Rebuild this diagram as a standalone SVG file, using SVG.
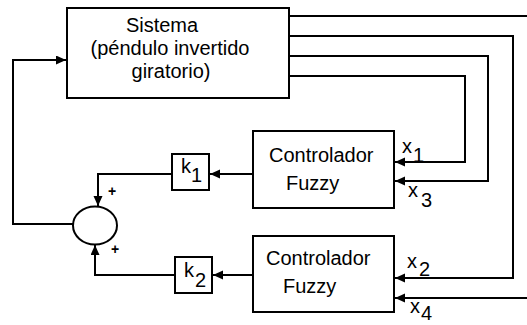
<svg xmlns="http://www.w3.org/2000/svg" width="527" height="325" viewBox="0 0 527 325">
<style>
.box{fill:#fff;stroke:#000;stroke-width:2}
.ln{fill:none;stroke:#000;stroke-width:2}
.t{font-family:"Liberation Sans",Arial,sans-serif;font-size:20px;fill:#000}
.pl{font-family:"Liberation Sans",Arial,sans-serif;font-size:14px;font-weight:bold;fill:#000}
</style>
<defs>
<marker id="ah" markerUnits="userSpaceOnUse" markerWidth="11" markerHeight="10" refX="10" refY="4.5" orient="auto">
<path d="M0,0 L10,4.5 L0,9 z" fill="#000"/>
</marker>
</defs>
<rect width="527" height="325" fill="#fff"/>
<g id="connectors">
<path class="ln" d="M289,76 H465 V162 H395" marker-end="url(#ah)"/>
<path class="ln" d="M289,56 H488 V181 H395" marker-end="url(#ah)"/>
<path class="ln" d="M289,36 H513 V278 H395" marker-end="url(#ah)"/>
<path class="ln" d="M289,16 H530 V298 H395" marker-end="url(#ah)"/>
<path class="ln" d="M253,174 H210" marker-end="url(#ah)"/>
<path class="ln" d="M253,275 H213" marker-end="url(#ah)"/>
<path class="ln" d="M172,174 H98 V206" marker-end="url(#ah)"/>
<path class="ln" d="M175,275 H95 V245" marker-end="url(#ah)"/>
<path class="ln" d="M73,224 H13 V60 H66" marker-end="url(#ah)"/>
</g>
<g id="sistema">
<rect class="box" x="67" y="8" width="222" height="90"/>
<text class="t" x="162" y="32" text-anchor="middle">Sistema</text>
<text class="t" x="170" y="55" text-anchor="middle">(péndulo invertido</text>
<text class="t" x="171" y="78" text-anchor="middle">giratorio)</text>
</g>
<g id="fuzzy1">
<rect class="box" x="253" y="131" width="141" height="77"/>
<text class="t" x="269" y="162">Controlador</text>
<text class="t" x="286" y="190">Fuzzy</text>
</g>
<g id="fuzzy2">
<rect class="box" x="253" y="236" width="141" height="76"/>
<text class="t" x="266" y="265">Controlador</text>
<text class="t" x="283" y="293">Fuzzy</text>
</g>
<g id="k1">
<rect class="box" x="172" y="154" width="37" height="36"/>
<text class="t" x="181" y="173">k</text>
<text class="t" x="191" y="182">1</text>
</g>
<g id="k2">
<rect class="box" x="175" y="257" width="37" height="36"/>
<text class="t" x="184" y="277">k</text>
<text class="t" x="195" y="287">2</text>
</g>
<g id="sum">
<ellipse class="box" cx="95" cy="225.5" rx="22" ry="19"/>
<text class="pl" x="112" y="196" text-anchor="middle">+</text>
<text class="pl" x="115" y="254" text-anchor="middle">+</text>
</g>
<g id="labels">
<text class="t" x="402" y="153">x</text>
<text class="t" x="413" y="162">1</text>
<text class="t" x="408" y="197">x</text>
<text class="t" x="421" y="207">3</text>
<text class="t" x="407" y="268">x</text>
<text class="t" x="419" y="276">2</text>
<text class="t" x="410" y="313">x</text>
<text class="t" x="421" y="320">4</text>
</g>
</svg>
